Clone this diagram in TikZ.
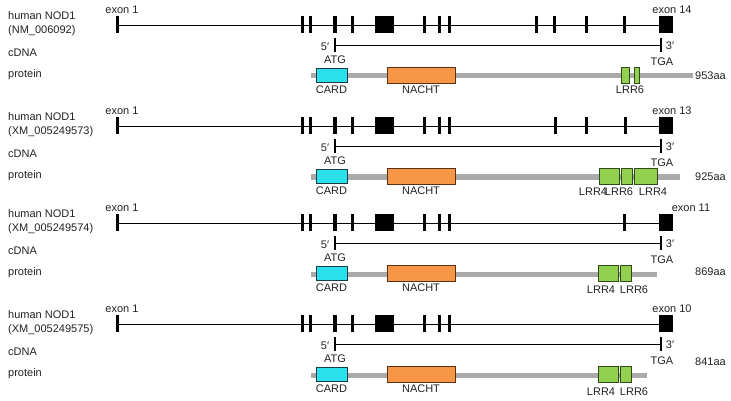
\documentclass[tikz,border=0pt]{standalone}
\usepackage{fontspec}
\setmainfont{Liberation Sans}
\definecolor{cardfill}{HTML}{2BE0EA}
\definecolor{carddraw}{HTML}{1A3C44}
\definecolor{nachtfill}{HTML}{F79646}
\definecolor{nachtdraw}{HTML}{5A3015}
\definecolor{lrrfill}{HTML}{92D050}
\definecolor{lrrdraw}{HTML}{2F4A18}
\definecolor{barcol}{HTML}{AAAAAA}
\definecolor{txt}{HTML}{222222}
\tikzset{
  lbl/.style={font=\fontsize{11}{12}\selectfont, inner sep=0pt, text=txt},
  gline/.style={line width=0.9pt, black},
  exontick/.style={line width=3pt, black},
  exonbox/.style={fill=black},
  cline/.style={line width=0.9pt, black},
  ctick/.style={line width=2pt, black},
  pbar/.style={line width=5pt, barcol},
  cardbox/.style={fill=cardfill, draw=carddraw, line width=0.9pt},
  nachtbox/.style={fill=nachtfill, draw=nachtdraw, line width=0.9pt},
  lrrbox/.style={fill=lrrfill, draw=lrrdraw, line width=0.9pt},
}
% #1 prefix, #2 accession, #3 protein end, #4 extra exon ticks, #5 last exon label, #6 label x, #7 length text, #8 length y
\newcommand\nodpanel[8]{%
  \node[lbl,anchor=west] (#1h) at (8,-9) {human NOD1};
  \node[lbl,anchor=west] (#1acc) at (8,6) {(#2)};
  \node[lbl,anchor=west] (#1c) at (8,28) {cDNA};
  \node[lbl,anchor=west] (#1p) at (8,50) {protein};
  % gene
  \coordinate (#1gs) at (117,0);
  \coordinate (#1ge) at (666,0);
  \draw[gline] (#1gs) -- (#1ge);
  \foreach \x in {117,302,310,352,424,439,449,#4} \draw[exontick] (\x,-9) -- (\x,8);
  \draw[exontick, line width=4pt] (335,-9) -- (335,8);
  \fill[exonbox] (375,-9) rectangle (394,8);
  \fill[exonbox] (659,-9) rectangle (673,8);
  \node[lbl] (#1ex1) at (122,-15) {exon 1};
  \node[lbl] (#1exn) at (#6,-15) {#5};
  % cDNA
  \coordinate (#1cs) at (335,20);
  \coordinate (#1ce) at (661,20);
  \draw[cline] (#1cs) -- (#1ce);
  \draw[ctick] (335,13) -- (335,27);
  \draw[ctick] (661,13) -- (661,27);
  \node[lbl] (#1five) at (325,22) {5′};
  \node[lbl] (#1three) at (670,21) {3′};
  \node[lbl] (#1atg) at (335,35) {ATG};
  \node[lbl] (#1tga) at (662,37) {TGA};
  % protein
  \coordinate (#1ps) at (311,51);
  \coordinate (#1pe) at (#3,51);
  \draw[pbar] (#1ps) -- (#1pe);
  \draw[cardbox] (316,43) rectangle (347,57);
  \draw[nachtbox] (387,42) rectangle (455,58);
  \node[lbl] (#1cardl) at (331.5,65) {CARD};
  \node[lbl] (#1nachtl) at (421,65) {NACHT};
  \node[lbl,anchor=west] (#1len) at (695,#8) {#7};
}
\begin{document}
\begin{tikzpicture}[x=1pt,y=-1pt]
\useasboundingbox (0,0) rectangle (731,401);
\begin{scope}[yshift=-25pt]
  \nodpanel{a}{NM\_006092}{693}{536,554,586,624}{exon 14}{672}{953aa}{51}
  \draw[lrrbox] (621,42) rectangle (629,58);
  \draw[lrrbox] (634,42) rectangle (639,58);
  \node[lbl] (alrr6) at (630,65) {LRR6};
\end{scope}
\begin{scope}[yshift=-126pt]
  \nodpanel{b}{XM\_005249573}{680}{555,586,625}{exon 13}{672}{925aa}{51}
  \draw[lrrbox] (599,42) rectangle (619,58);
  \draw[lrrbox] (621,42) rectangle (632,58);
  \draw[lrrbox] (634,42) rectangle (657,58);
  \node[lbl] (blrr4a) at (593,66) {LRR4};
  \node[lbl] (blrr6) at (619,66) {LRR6};
  \node[lbl] (blrr4b) at (653,66) {LRR4};
\end{scope}
\begin{scope}[yshift=-223pt]
  \nodpanel{c}{XM\_005249574}{657}{624}{exon 11}{691}{869aa}{49}
  \draw[lrrbox] (598,42) rectangle (618,58);
  \draw[lrrbox] (620,42) rectangle (631,58);
  \node[lbl] (clrr4) at (601,67) {LRR4};
  \node[lbl] (clrr6) at (634,67) {LRR6};
\end{scope}
\begin{scope}[yshift=-324pt]
  \nodpanel{d}{XM\_005249575}{647}{449}{exon 10}{672}{841aa}{38}
  \draw[lrrbox] (598,42) rectangle (618,58);
  \draw[lrrbox] (620,42) rectangle (631,58);
  \node[lbl] (dlrr4) at (601,68) {LRR4};
  \node[lbl] (dlrr6) at (634,68) {LRR6};
\end{scope}
\end{tikzpicture}
\end{document}
